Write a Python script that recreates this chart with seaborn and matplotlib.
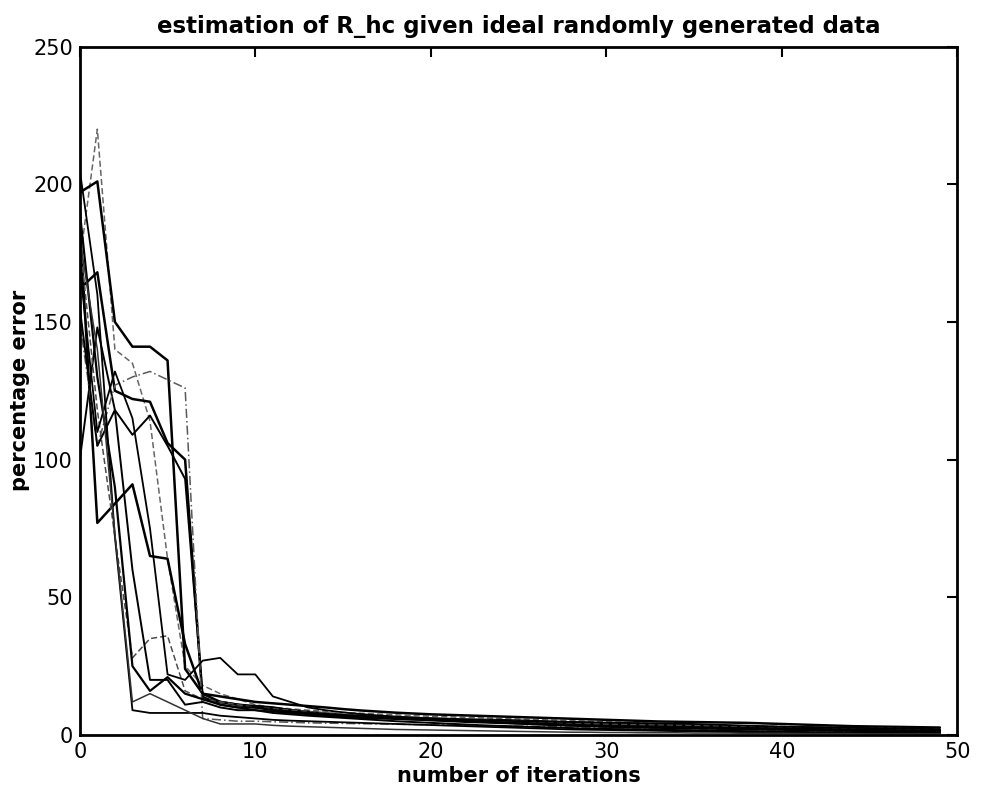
import matplotlib
matplotlib.use("Agg")
import matplotlib.pyplot as plt
import seaborn as sns
import pandas as pd
import numpy as np

# ---------------- Data (percentage error per iteration, one list per run) ----------------
run_01 = [172, 220, 140, 135, 114, 64, 25, 18, 15, 13,
          11, 10, 9.5, 9, 8.6, 8.2, 7.9, 7.6, 7.3, 7.0,
          6.8, 6.6, 6.4, 6.2, 6.0, 5.8, 5.6, 5.4, 5.2, 5.0,
          4.8, 4.6, 4.4, 4.2, 4.0, 3.8, 3.6, 3.4, 3.3, 3.2,
          3.1, 3.0, 2.9, 2.8, 2.7, 2.6, 2.5, 2.4, 2.3, 2.2]
run_02 = [197, 201, 150, 141, 141, 136, 24, 15, 14, 13,
          12, 11.5, 11, 10.5, 10, 9.4, 8.9, 8.5, 8.1, 7.8,
          7.5, 7.3, 7.1, 6.9, 6.7, 6.5, 6.3, 6.1, 5.9, 5.7,
          5.5, 5.3, 5.1, 4.9, 4.8, 4.7, 4.6, 4.5, 4.4, 4.2,
          4.0, 3.8, 3.6, 3.4, 3.2, 3.1, 3.0, 2.9, 2.8, 2.7]
run_03 = [162, 168, 125, 122, 121, 106, 100, 13, 12, 11,
          10.5, 10, 9, 8, 7.5, 7, 6.8, 6.6, 6.4, 6.2,
          6.0, 5.8, 5.6, 5.5, 5.4, 5.2, 5.0, 4.8, 4.6, 4.4,
          4.2, 4.0, 3.8, 3.6, 3.4, 3.2, 3.0, 2.9, 2.8, 2.7,
          2.6, 2.5, 2.4, 2.3, 2.2, 2.1, 2.0, 1.9, 1.8, 1.7]
run_04 = [100, 148, 118, 109, 116, 105, 93, 14, 11, 10,
          9, 8.5, 8, 7.5, 7, 6.5, 6.2, 6, 5.8, 5.6,
          5.4, 5.2, 5.0, 4.8, 4.6, 4.4, 4.3, 4.2, 4.1, 4.0,
          3.9, 3.8, 3.7, 3.6, 3.5, 3.4, 3.3, 3.2, 3.1, 3.0,
          2.9, 2.8, 2.7, 2.6, 2.5, 2.4, 2.3, 2.2, 2.1, 2.0]
run_05 = [185, 77, 84, 91, 65, 64, 33, 15, 12, 11,
          10, 9.5, 9, 8.4, 7.8, 7.2, 6.8, 6.4, 6.0, 5.7,
          5.4, 5.1, 4.8, 4.6, 4.4, 4.2, 4.0, 3.8, 3.6, 3.4,
          3.3, 3.2, 3.1, 3.0, 2.9, 2.8, 2.7, 2.6, 2.5, 2.4,
          2.3, 2.2, 2.1, 2.0, 1.9, 1.8, 1.7, 1.6, 1.5, 1.4]
run_06 = [150, 105, 127, 130, 132, 129, 126, 6, 5.5, 5,
          5, 4.8, 4.6, 4.4, 4.3, 4.2, 4.1, 4.0, 3.9, 3.8,
          3.7, 3.6, 3.5, 3.4, 3.3, 3.2, 3.1, 3.0, 2.9, 2.8,
          2.7, 2.6, 2.5, 2.4, 2.3, 2.2, 2.1, 2.0, 1.9, 1.8,
          1.7, 1.6, 1.5, 1.4, 1.3, 1.2, 1.1, 1.0, 0.9, 0.8]
run_07 = [180, 118, 72, 28, 35, 36, 16, 13, 12, 11,
          10, 9.5, 9, 8.5, 8, 7.6, 7.2, 6.9, 6.6, 6.3,
          6.0, 5.8, 5.6, 5.4, 5.2, 5.0, 4.8, 4.6, 4.4, 4.2,
          4.0, 3.9, 3.8, 3.7, 3.6, 3.5, 3.4, 3.3, 3.2, 3.1,
          3.0, 2.9, 2.8, 2.7, 2.6, 2.5, 2.4, 2.3, 2.2, 2.1]
run_08 = [205, 160, 72, 9, 8, 8, 8, 8, 7, 6.5,
          6, 5.5, 5.2, 5.0, 4.8, 4.6, 4.4, 4.2, 4.0, 3.8,
          3.6, 3.4, 3.2, 3.0, 2.8, 2.6, 2.4, 2.2, 2.0, 1.9,
          1.8, 1.7, 1.6, 1.5, 1.4, 1.3, 1.2, 1.1, 1.0, 1.0,
          0.9, 0.9, 0.8, 0.8, 0.7, 0.7, 0.6, 0.6, 0.5, 0.5]
run_09 = [190, 130, 90, 25, 16, 21, 15, 13, 11, 10,
          10, 9, 8.5, 8, 7.6, 7.2, 6.9, 6.6, 6.3, 6.0,
          5.7, 5.4, 5.1, 4.8, 4.5, 4.2, 3.9, 3.6, 3.4, 3.2,
          3.0, 2.8, 2.7, 2.6, 2.5, 2.4, 2.3, 2.2, 2.1, 2.0,
          1.9, 1.8, 1.7, 1.6, 1.5, 1.4, 1.3, 1.2, 1.1, 1.0]
run_10 = [170, 110, 132, 115, 75, 22, 20, 27, 28, 22,
          22, 14, 12, 10, 9, 8.2, 7.6, 7.1, 6.7, 6.3,
          6.0, 5.8, 5.6, 5.4, 5.2, 5.0, 4.9, 4.8, 4.7, 4.6,
          4.5, 4.4, 4.3, 4.2, 4.1, 4.0, 3.8, 3.6, 3.4, 3.2,
          3.0, 2.9, 2.8, 2.7, 2.6, 2.5, 2.4, 2.3, 2.2, 2.1]
run_11 = [155, 105, 118, 60, 20, 20, 11, 12, 10, 9,
          9, 8, 7.5, 7, 6.6, 6.2, 5.8, 5.4, 5.0, 4.7,
          4.4, 4.1, 3.8, 3.5, 3.3, 3.1, 2.9, 2.7, 2.5, 2.3,
          2.2, 2.1, 2.0, 1.9, 1.8, 1.7, 1.6, 1.5, 1.4, 1.3,
          1.2, 1.1, 1.0, 1.0, 0.9, 0.9, 0.8, 0.8, 0.7, 0.7]
run_12 = [180, 140, 73, 12, 15, 12, 9, 6, 4, 4,
          4, 3.5, 3.2, 3.0, 2.8, 2.6, 2.4, 2.2, 2.0, 1.9,
          1.8, 1.7, 1.6, 1.5, 1.4, 1.3, 1.2, 1.1, 1.0, 1.0,
          0.9, 0.9, 0.8, 0.8, 0.8, 0.7, 0.7, 0.7, 0.6, 0.6,
          0.6, 0.5, 0.5, 0.5, 0.5, 0.4, 0.4, 0.4, 0.4, 0.4]

runs = [run_01, run_02, run_03, run_04, run_05, run_06,
        run_07, run_08, run_09, run_10, run_11, run_12]

x_ticks = [0, 10, 20, 30, 40, 50]
y_ticks = [0, 50, 100, 150, 200, 250]

# ---------------- Styles (faint scanned lines look grey/dashed) ----------------
line_styles = [
    ("0.4", (0, (4, 2)), 1.1),
    ("black", "-", 1.8),
    ("black", "-", 1.8),
    ("black", "-", 1.4),
    ("black", "-", 1.8),
    ("0.35", (0, (6, 2, 1, 2)), 1.1),
    ("0.3", (0, (4, 2)), 1.1),
    ("black", "-", 1.3),
    ("black", "-", 1.6),
    ("black", "-", 1.3),
    ("black", "-", 1.4),
    ("0.2", "-", 1.1),
]

# ---------------- Long-form table ----------------
frames = []
for k, vals in enumerate(runs):
    frames.append(pd.DataFrame({
        "iteration": np.arange(len(vals)),
        "error": vals,
        "run": k,
    }))
df = pd.concat(frames, ignore_index=True)

# ---------------- Plot ----------------
sns.set_style("white")
plt.rcParams["font.family"] = ["DejaVu Sans"]
plt.rcParams["text.color"] = "black"
plt.rcParams["axes.labelcolor"] = "black"

fig = plt.figure(figsize=(9.85, 7.95), dpi=100)
ax = fig.add_axes([0.081, 0.0755, 0.891, 0.866])

for k in range(len(runs)):
    color, ls, lw = line_styles[k]
    sns.lineplot(data=df[df["run"] == k], x="iteration", y="error",
                 color=color, linestyle=ls, linewidth=lw, ax=ax,
                 estimator=None, legend=False)

ax.set_xlim(0, 50)
ax.set_ylim(0, 250)
ax.set_xticks(x_ticks)
ax.set_yticks(y_ticks)
ax.tick_params(direction="in", length=7, width=1.5, top=True, right=True,
               labelsize=15, pad=5, colors="black")
for side in ["top", "right", "bottom", "left"]:
    ax.spines[side].set_visible(True)
    ax.spines[side].set_linewidth(2)
    ax.spines[side].set_color("black")

ax.set_title("estimation of R_hc given ideal randomly generated data",
             fontsize=16.5, fontweight="bold", pad=10, color="black")
ax.set_xlabel("number of iterations", fontsize=15, fontweight="bold", labelpad=3)
ax.set_ylabel("percentage error", fontsize=15, fontweight="bold", labelpad=2)

plt.savefig("out.png", dpi=100)
plt.close()
